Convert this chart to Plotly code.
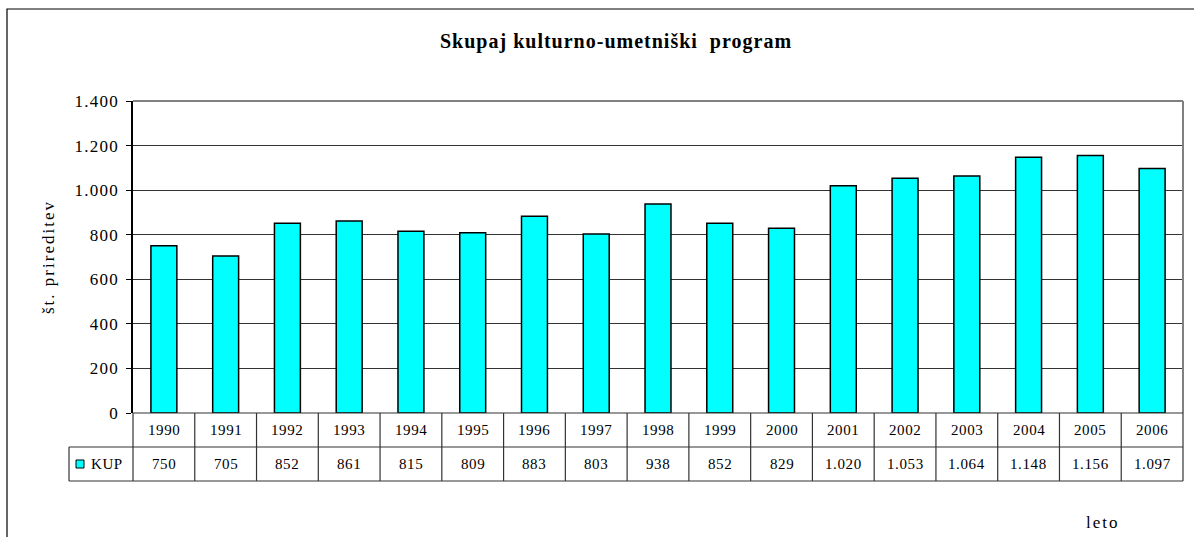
import plotly.graph_objects as go

years = ["1990", "1991", "1992", "1993", "1994", "1995", "1996", "1997", "1998",
         "1999", "2000", "2001", "2002", "2003", "2004", "2005", "2006"]
kup = [750, 705, 852, 861, 815, 809, 883, 803, 938, 852, 829, 1020, 1053, 1064, 1148, 1156, 1097]
y_ticks = [0, 200, 400, 600, 800, 1000, 1200, 1400]
series_name = "KUP"
title_text = "Skupaj kulturno-umetniški  program"
y_title = "št. prireditev"
x_title = "leto"

SERIF = "Liberation Serif, Times New Roman, serif"
CYAN = "#00FFFF"

W, H = 1194, 537
L, R, T, B = 133, 11, 101, 124
pw, ph = W - L - R, H - T - B
row_h = 34 / ph
n = len(years)


def fmt(v):
    return f"{v:,}".replace(",", ".")


def sp(text, px):
    return f"<span style='letter-spacing:{px}px'>{text}</span>"


fig = go.Figure()
fig.add_trace(go.Bar(
    x=list(range(n)), y=kup, name=series_name,
    marker=dict(color=CYAN, line=dict(color="#000000", width=1.5)),
    showlegend=False,
))

shapes = []
ann = []

# plot-area top and right border (grey)
shapes.append(dict(type="line", xref="paper", yref="paper", x0=0, x1=1, y0=1, y1=1,
                   line=dict(color="#808080", width=2)))
shapes.append(dict(type="line", xref="paper", yref="paper", x0=1, x1=1, y0=0, y1=1,
                   line=dict(color="#808080", width=2)))

# outer chart border
shapes.append(dict(type="rect", xref="paper", yref="paper",
                   x0=(7 - L) / pw, x1=(W + 10 - L) / pw,
                   y0=-(H + 10 - T - ph) / ph, y1=(T + ph - 9) / ph,
                   line=dict(color="#000000", width=1.2), fillcolor="rgba(0,0,0,0)"))

tcol = "#333333"
# data table horizontal lines
for k in range(3):
    shapes.append(dict(type="line", xref="paper", yref="paper",
                       x0=0 if k == 0 else -64 / pw, x1=1,
                       y0=-k * row_h, y1=-k * row_h,
                       line=dict(color=tcol, width=1.2)))
# vertical lines
for k in range(n + 1):
    shapes.append(dict(type="line", xref="paper", yref="paper",
                       x0=k / n, x1=k / n, y0=-2 * row_h, y1=0,
                       line=dict(color=tcol, width=1.2)))
shapes.append(dict(type="line", xref="paper", yref="paper",
                   x0=-64 / pw, x1=-64 / pw, y0=-2 * row_h, y1=-row_h,
                   line=dict(color=tcol, width=1.2)))
# legend key square
shapes.append(dict(type="rect", xref="paper", yref="paper",
                   x0=-57 / pw, x1=-49 / pw, y0=-1.5 * row_h - 4 / ph, y1=-1.5 * row_h + 4 / ph,
                   line=dict(color="#000000", width=1), fillcolor=CYAN))

tfont = dict(family=SERIF, size=15, color="#000000")
for i, (yr, v) in enumerate(zip(years, kup)):
    ann.append(dict(x=i, xref="x", y=-0.5 * row_h, yref="paper", text=sp(yr, 0.6), showarrow=False,
                    font=tfont, xanchor="center", yanchor="middle"))
    ann.append(dict(x=i, xref="x", y=-1.5 * row_h, yref="paper", text=sp(fmt(v), 0.6), showarrow=False,
                    font=tfont, xanchor="center", yanchor="middle"))
ann.append(dict(x=-44 / pw, xref="paper", y=-1.5 * row_h, yref="paper", text=sp(series_name, 0.6),
                showarrow=False, font=tfont, xanchor="left", yanchor="middle"))
ann.append(dict(x=(1103 - L) / pw, xref="paper", y=-(522 - T - ph) / ph, yref="paper",
                text=sp(x_title, 2),
                showarrow=False, font=dict(family=SERIF, size=17, color="#000000"),
                xanchor="center", yanchor="middle"))
ann.append(dict(x=(48 - L) / pw, xref="paper", y=0.5, yref="paper", text=sp(y_title, 2), textangle=-90,
                showarrow=False, font=dict(family=SERIF, size=17, color="#000000"),
                xanchor="center", yanchor="middle"))
ann.append(dict(x=(616 - L) / pw, xref="paper", y=(T + ph - 41) / ph, yref="paper",
                text="<b>" + sp(title_text, 1) + "</b>",
                showarrow=False, font=dict(family=SERIF, size=20, color="#000000"),
                xanchor="center", yanchor="middle"))

fig.update_layout(
    width=W, height=H,
    margin=dict(l=L, r=R, t=T, b=B, autoexpand=False),
    paper_bgcolor="#FFFFFF", plot_bgcolor="#FFFFFF",
    bargap=0.58,
    shapes=shapes, annotations=ann,
    xaxis=dict(range=[-0.5, n - 0.5], showticklabels=False, ticks="",
               showgrid=False, showline=False, zeroline=False, fixedrange=True),
    yaxis=dict(range=[0, 1400], tickmode="array", tickvals=y_ticks,
               ticktext=[sp(fmt(t), 1.2) for t in y_ticks],
               ticks="outside", ticklen=5, ticklabelstandoff=4,
               tickcolor="#000000", tickwidth=1,
               tickfont=dict(family=SERIF, size=17, color="#000000"),
               showgrid=True, gridcolor="#333333", gridwidth=1.2,
               showline=True, linecolor="#000000", linewidth=1.5, zeroline=False,
               fixedrange=True),
)

fig.write_html("out.html", config={"displayModeBar": False},
               post_script="document.body.style.margin='0';")
